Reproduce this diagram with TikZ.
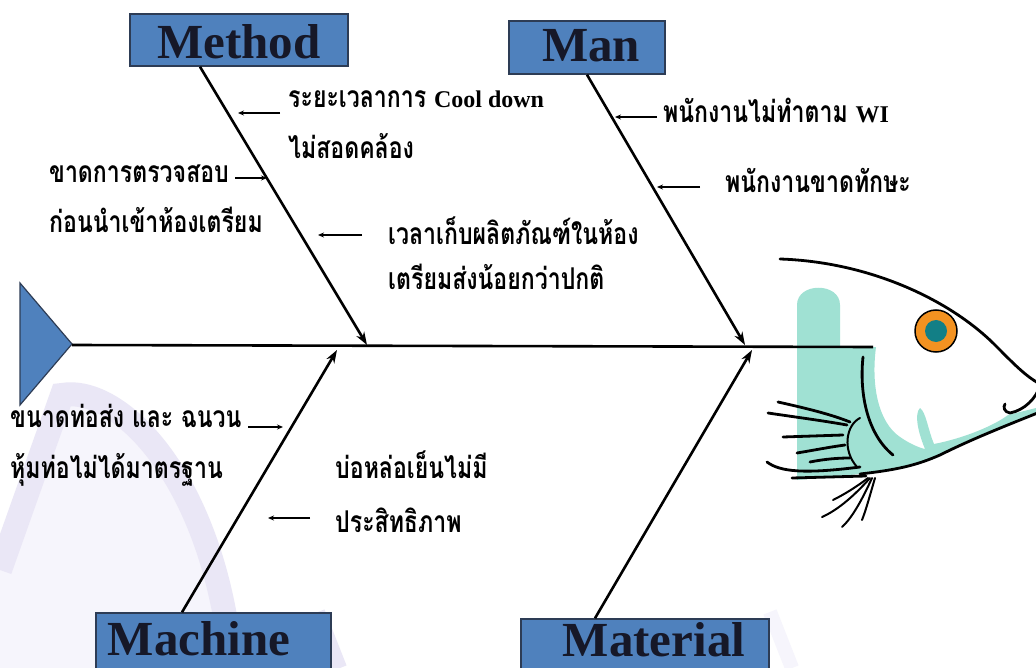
\documentclass[tikz,border=0pt]{standalone}
\usepackage{fontspec}
\setmainfont{Liberation Serif}
\newfontfamily\thaifont[Script=Thai, FakeStretch=0.77]{Loma}
\usetikzlibrary{arrows.meta}

\definecolor{boxblue}{RGB}{79,129,189}
\definecolor{boxedge}{RGB}{45,60,85}
\definecolor{labelink}{RGB}{22,24,40}
\definecolor{finaqua}{RGB}{160,225,211}
\definecolor{eyeorange}{RGB}{243,146,33}
\definecolor{eyeteal}{RGB}{18,127,134}
\definecolor{wmark}{RGB}{234,231,246}
\definecolor{wmarklight}{RGB}{246,245,252}

\newcommand\engtxt[1]{{\rmfamily\fontsize{24}{28}\selectfont #1}}

\tikzset{
  catbox/.style={draw=boxedge, line width=1.5pt, fill=boxblue, inner sep=0pt},
  cattext/.style={font=\fontsize{49}{49}\selectfont\bfseries, text=labelink, anchor=base, inner sep=0pt},
  cause/.style={font=\thaifont\fontsize{30}{34}\selectfont\bfseries, anchor=base west, inner sep=0pt},
  bone/.style={line width=2.6pt, -{Stealth[length=13pt,width=9pt]}},
  twig/.style={line width=1.1pt, -{Stealth[length=6pt,width=5pt]}},
  fishline/.style={line width=2.8pt, line cap=round},
}

\begin{document}
\begin{tikzpicture}[x=1pt,y=-1pt]
\useasboundingbox (0,0) rectangle (1036,668);
\clip (0,0) rectangle (1036,668);
\fill[white] (0,0) rectangle (1036,668);

% faint background mark
\fill[wmarklight] (0,668) -- (0,570) -- (62,395) .. controls (120,385) and (215,480) .. (232,668) -- cycle;
\draw[wmark, line width=24pt] (0,570) -- (62,395) .. controls (120,385) and (215,480) .. (232,668);
\draw[wmark, line width=14pt] (318,612) -- (340,668);
\draw[wmarklight, line width=14pt] (770,612) -- (792,668);

% fish head
\fill[finaqua] (797,480) -- (797,305) .. controls (797,282) and (840,282) .. (840,305) -- (840,347) -- (876,347)
  .. controls (871,385) and (878,422) .. (900,437) .. controls (910,444) and (920,448) .. (925,449)
  .. controls (918,432) and (914,414) .. (920,408) .. controls (926,412) and (928,430) .. (934,444)
  .. controls (965,438) and (995,425) .. (1008,415) -- (1036,408) -- (1036,414)
  .. controls (1000,428) and (970,440) .. (940,455) .. controls (915,466) and (895,470) .. (860,474) -- (797,480) -- cycle;
\draw[fishline] (780,259) .. controls (870,262) and (950,300) .. (995,345) .. controls (1012,362) and (1025,376) .. (1040,384);
\draw[fishline] (1040,386) .. controls (1036,398) and (1025,410) .. (1010,413) .. controls (1004,412) and (1003,407) .. (1005,404);
\draw[fishline] (1040,412) .. controls (1000,428) and (970,440) .. (940,455) .. controls (915,466) and (895,470) .. (860,474);
\draw[fishline] (792,478) -- (866,476);
\draw[fishline] (863,357) .. controls (859,395) and (868,435) .. (893,455);
% eye
\draw[line width=1.5pt, fill=eyeorange] (936,331) circle (21);
\fill[eyeteal] (936,331) circle (11);
% pectoral fin
\draw[fishline, line width=2pt] (860,418) .. controls (846,425) and (842,450) .. (857,467);
\draw[fishline] (778,402) .. controls (805,408) and (830,414) .. (850,422);
\draw[fishline] (768,413) .. controls (795,417) and (825,421) .. (847,425);
\draw[fishline] (783,437) -- (843,435);
\draw[fishline] (797,453) .. controls (815,450) and (830,447) .. (845,445);
\draw[fishline] (810,462) .. controls (825,459) and (838,458) .. (850,458);
\draw[fishline] (767,462) .. controls (780,472) and (805,474) .. (860,467);
% lower fin
\draw[fishline, line width=2pt] (868,478) .. controls (855,488) and (843,495) .. (833,500);
\draw[fishline, line width=2pt] (870,478) .. controls (855,495) and (838,510) .. (822,517);
\draw[fishline, line width=2pt] (872,478) .. controls (862,500) and (852,518) .. (842,527);
\draw[fishline, line width=2pt] (875,478) .. controls (870,495) and (866,510) .. (862,520);

% tail and spine
\draw[boxedge, line width=1.2pt, fill=boxblue] (20,283) -- (72,344) -- (20,405) -- cycle;
\coordinate (tail) at (72,345);
\coordinate (spineend) at (873,347);
\draw[line width=2.6pt] (tail) -- (spineend);

% category boxes
\node[catbox, minimum width=218, minimum height=52] (method) at (239,40) {};
\node[cattext] (methodlbl) at (239,59) {Method};
\node[catbox, minimum width=156, minimum height=53] (man) at (587,47.5) {};
\node[cattext] (manlbl) at (591,62) {Man};
\node[catbox, minimum width=235, minimum height=70] (machine) at (213.5,648) {};
\node[cattext] (machinelbl) at (199,655) {Machine};
\node[catbox, minimum width=248, minimum height=70] (material) at (645,654) {};
\node[cattext] (materiallbl) at (654,656) {Material};

% main bones
\coordinate (methodtip) at (367,345);
\coordinate (mantip) at (745,345);
\coordinate (machinetip) at (337,350);
\coordinate (materialtip) at (752,350);
\draw[bone] ([xshift=-39pt]method.south) -- (methodtip);
\draw[bone] (man.south) -- (mantip);
\draw[bone] ([xshift=-31.5pt]machine.north) -- (machinetip);
\draw[bone] ([xshift=-50pt]material.north) -- (materialtip);

% causes
\node[cause] (c1a) at (288,108) {ระยะเวลาการ \engtxt{Cool down}};
\node[cause] (c1b) at (288,159) {ไม่สอดคล้อง};
\node[cause] (c2a) at (49,183) {ขาดการตรวจสอบ};
\node[cause] (c2b) at (49,233) {ก่อนนำเข้าห้องเตรียม};
\node[cause] (c3a) at (388,245) {เวลาเก็บผลิตภัณฑ์ในห้อง};
\node[cause] (c3b) at (388,290) {เตรียมส่งน้อยกว่าปกติ};
\node[cause] (c4) at (663,123) {พนักงานไม่ทำตาม \engtxt{WI}};
\node[cause] (c5) at (725,193) {พนักงานขาดทักษะ};
\node[cause] (c6a) at (10,427) {ขนาดท่อส่ง และ ฉนวน};
\node[cause] (c6b) at (10,478) {หุ้มท่อไม่ได้มาตรฐาน};
\node[cause] (c7a) at (335,478) {บ่อหล่อเย็นไม่มี};
\node[cause] (c7b) at (335,532) {ประสิทธิภาพ};

% small arrows onto the bones
\coordinate (k1) at (280,113); \coordinate (k1t) at (238,113);
\coordinate (k2) at (235,178); \coordinate (k2t) at (267,178);
\coordinate (k3) at (362,235); \coordinate (k3t) at (318,235);
\coordinate (k4) at (657,117); \coordinate (k4t) at (615,117);
\coordinate (k5) at (700,187); \coordinate (k5t) at (657,187);
\coordinate (k6) at (248,427); \coordinate (k6t) at (283,427);
\coordinate (k7) at (310,518); \coordinate (k7t) at (268,518);
\foreach \k in {1,...,7}
  \draw[twig] (k\k) -- (k\k t);
\end{tikzpicture}
\end{document}
